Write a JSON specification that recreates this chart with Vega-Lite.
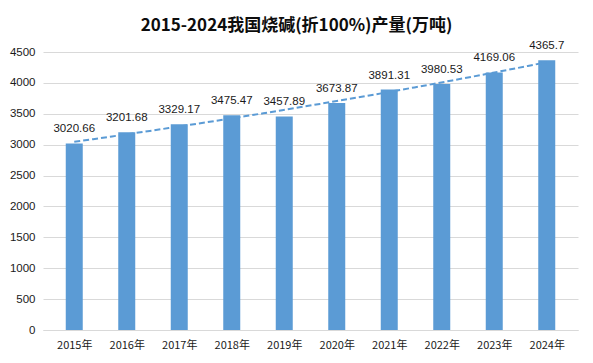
{
  "$schema": "https://vega.github.io/schema/vega-lite/v6.json",
  "width": 535,
  "height": 278,
  "autosize": {"type": "none"},
  "padding": {"left": 43, "top": 52, "right": 15, "bottom": 33},
  "background": "white",
  "config": {"view": {"stroke": null}, "font": "Liberation Sans"},
  "title": {
    "text": "2015-2024我国烧碱(折100%)产量(万吨)",
    "font": "Noto Sans CJK SC",
    "fontSize": 17,
    "fontWeight": "bold",
    "color": "#0d0d0d",
    "anchor": "middle",
    "dx": -14,
    "offset": 5
  },
  "data": {
    "values": [
      {"year": 2015, "output": 3020.66},
      {"year": 2016, "output": 3201.68},
      {"year": 2017, "output": 3329.17},
      {"year": 2018, "output": 3475.47},
      {"year": 2019, "output": 3457.89},
      {"year": 2020, "output": 3673.87},
      {"year": 2021, "output": 3891.31},
      {"year": 2022, "output": 3980.53},
      {"year": 2023, "output": 4169.06},
      {"year": 2024, "output": 4365.7}
    ]
  },
  "encoding": {
    "x": {
      "field": "year",
      "type": "quantitative",
      "scale": {"domain": [2014.5, 2024.5], "nice": false, "zero": false},
      "axis": {
        "title": null,
        "values": [2015, 2016, 2017, 2018, 2019, 2020, 2021, 2022, 2023, 2024],
        "labelExpr": "datum.value + '年'",
        "grid": false,
        "ticks": false,
        "domain": true,
        "domainColor": "#D9D9D9",
        "labelFont": "Noto Sans CJK SC",
        "labelFontSize": 11,
        "labelColor": "#1a1a1a",
        "labelPadding": 9
      }
    },
    "y": {
      "field": "output",
      "type": "quantitative",
      "scale": {"domain": [0, 4500], "nice": false},
      "axis": {
        "title": null,
        "values": [0, 500, 1000, 1500, 2000, 2500, 3000, 3500, 4000, 4500],
        "format": "d",
        "grid": true,
        "gridColor": "#D9D9D9",
        "ticks": false,
        "domain": false,
        "labelFontSize": 11.5,
        "labelColor": "#1a1a1a",
        "labelPadding": 8
      }
    }
  },
  "layer": [
    {
      "mark": {"type": "bar", "size": 17, "color": "#5B9BD5"}
    },
    {
      "mark": {"type": "text", "dy": -11, "baseline": "alphabetic", "fontSize": 11.5, "color": "#1a1a1a"},
      "encoding": {"text": {"field": "output", "type": "quantitative"}}
    },
    {
      "transform": [
        {"regression": "output", "on": "year", "method": "exp", "extent": [2015, 2024]}
      ],
      "mark": {"type": "line", "color": "#5B9BD5", "strokeWidth": 2, "strokeDash": [6, 3]}
    }
  ]
}
